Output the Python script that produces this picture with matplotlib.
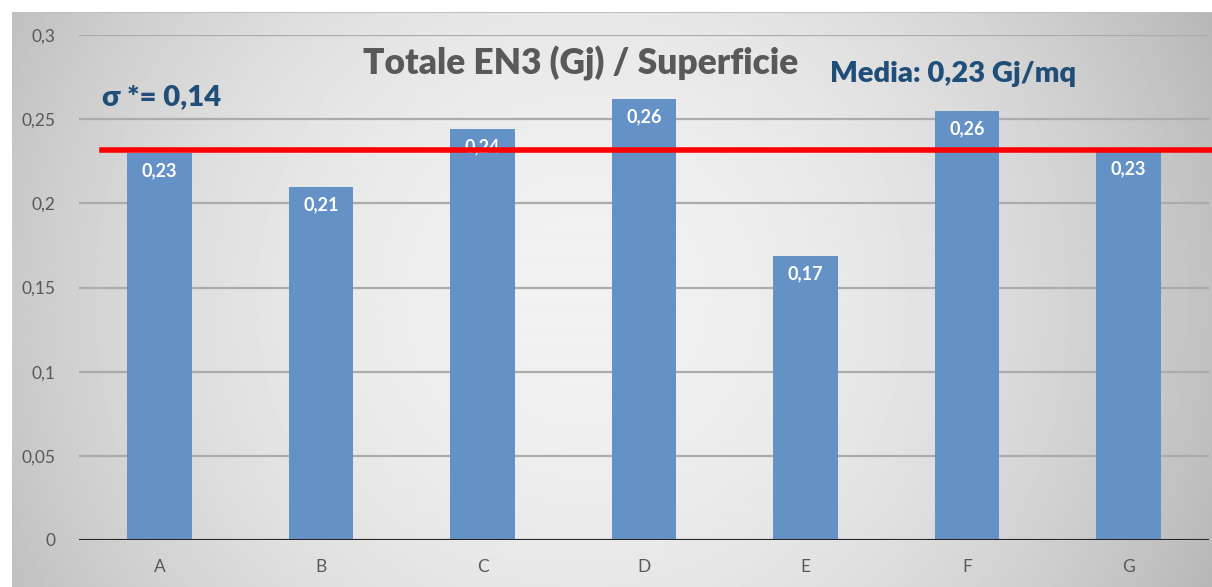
import numpy as np
import matplotlib.pyplot as plt

plt.rcParams['font.family'] = ['Lato', 'DejaVu Sans']

categories = ['A', 'B', 'C', 'D', 'E', 'F', 'G']
values = [0.23, 0.21, 0.244, 0.262, 0.169, 0.255, 0.231]
labels = ['0,23', '0,21', '0,24', '0,26', '0,17', '0,26', '0,23']
yticks = [0, 0.05, 0.1, 0.15, 0.2, 0.25, 0.3]
ytick_labels = ['0', '0,05', '0,1', '0,15', '0,2', '0,25', '0,3']
media = 0.2315

W, H = 1212, 587
fig = plt.figure(figsize=(W / 100, H / 100), dpi=100)
fig.patch.set_facecolor('white')

# radial grey background of the chart box
bg = fig.add_axes([12 / W, 0, 1 - 12 / W, 1 - 12 / H])
yy, xx = np.mgrid[-1:1:300j, -1:1:600j]
r2 = ((xx + 0.05) * 0.95) ** 2 + (yy * 0.45) ** 2
shade = np.clip(0.945 - 0.19 * r2, 0, 1)
bg.imshow(shade, cmap='gray', vmin=0, vmax=1, aspect='auto', extent=[0, 1, 0, 1])
bg.set_xlim(0, 1)
bg.set_ylim(0, 1)
bg.axis('off')
bg.plot([0, 1], [1, 1], color='#c0c0c0', lw=1.5)

ax = fig.add_axes([79 / W, 1 - 540 / H, 1130 / W, 505 / H])
ax.patch.set_alpha(0)
x = np.arange(len(categories))
bars = ax.bar(x, values, width=0.4, color='#6491c6', zorder=3)
for b, lab in zip(bars, labels):
    ax.text(b.get_x() + b.get_width() / 2, b.get_height() - 0.0055, lab,
            ha='center', va='top', color='white', fontsize=13, fontweight='bold', zorder=4)

ax.set_xlim(-0.5, len(categories) - 0.5)
ax.set_ylim(0, 0.3)
ax.set_yticks(yticks)
ax.set_yticklabels(ytick_labels)
ax.set_xticks(x)
ax.set_xticklabels(categories)
ax.tick_params(length=0, labelsize=12.5, labelcolor='#595959')
ax.tick_params(axis='y', pad=17)
ax.tick_params(axis='x', pad=14)
ax.grid(axis='y', color='#ababab', lw=1.6, zorder=1)
for s in ax.spines.values():
    s.set_visible(False)
ax.axhline(0, color='#262626', lw=2.2, zorder=4)

ax.axhline(media, xmin=(102 - 79) / 1130, xmax=1.01, color='#ff0000', lw=4, zorder=5, clip_on=False)

fig.text(581 / W, 1 - 63 / H, 'Totale EN3 (Gj) / Superficie', ha='center', va='center',
         fontsize=25.5, fontweight='heavy', color='#595959')
fig.text(830 / W, 1 - 74 / H, 'Media: 0,23 Gj/mq', ha='left', va='center',
         fontsize=21, fontweight='heavy', color='#1f4e79')
fig.text(102 / W, 1 - 97 / H, 'σ *= 0,14', ha='left', va='center',
         fontsize=21, fontweight='heavy', color='#1f4e79')

fig.savefig('out.png', dpi=100)
